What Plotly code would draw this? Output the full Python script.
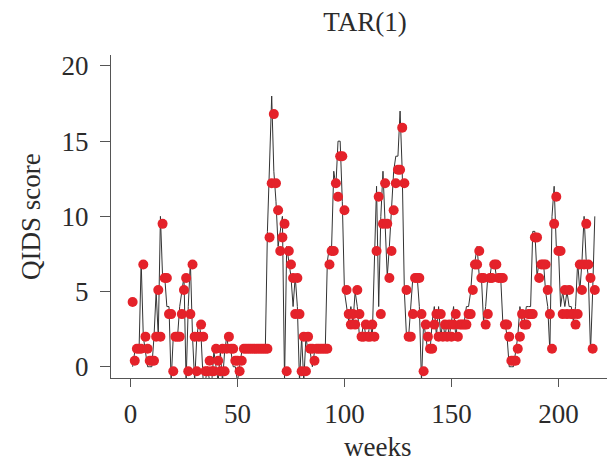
import plotly.graph_objects as go

# weeks 1..217
weeks = list(range(1, 218))

# observed QIDS score (black line); -1 marks dips drawn below the axis floor
qids_observed = [
    0, 1, 1, 1, 7, 2, 1, 0, 0, 0,
    2, 5, 2, 10, 6, 6, 4, 4, -1, 2,
    2, 2, 4, 5, 6, -1, 4, 7, 2, -1,
    2, 3, 2, -1, -1, 0, -1, -1, 1, 0,
    -1, 1, -1, 1, 2, 1, 1, 0, 0, -1,
    0, 1, 1, 1, 1, 1, 1, 1, 1, 1,
    1, 1, 1, 9, 13, 18, 13, 11, 8, 9,
    10, -1, 8, 7, 6, 4, 6, 4, -1, 2,
    -1, 2, 1, 1, 0, 1, 1, 1, 1, 1,
    1, 7, 8, 8, 13, 12, 15, 15, 11, 5,
    4, 3, 4, 3, 5, 4, 2, 2, 3, 2,
    2, 3, 2, 8, 12, 4, 10, 13, 10, 6,
    8, 11, 13, 14, 14, 17, 13, 5, 2, 2,
    4, 6, 6, 6, 4, -1, 3, 2, 1, 1,
    3, 4, 2, 4, 2, 3, 2, 3, 2, 3,
    4, 2, 3, 3, 3, 3, 4, 4, 5, 7,
    7, 8, 6, 6, 3, 4, 6, 6, 7, 7,
    6, 6, 6, 3, 3, 2, 0, 0, 0, 1,
    2, 4, 3, 3, 4, 4, 4, 9, 9, 6,
    7, 7, 7, 5, 4, 1, 10, 12, 8, 8,
    4, 5, 4, 5, 4, 4, 3, 4, 7, 5,
    7, 10, 7, 6, 1, 5, 10,
]

# TAR(1) fitted values (red points)
tar_fitted = [
    4.3, 0.4, 1.2, 1.2, 1.2, 6.8, 2.0, 1.2, 0.4, 0.4,
    0.4, 2.0, 5.1, 2.0, 9.5, 5.9, 5.9, 3.5, 3.5, -0.3,
    2.0, 2.0, 2.0, 3.5, 5.1, 5.9, -0.3, 3.5, 6.8, 2.0,
    -0.3, 2.0, 2.8, 2.0, -0.3, -0.3, 0.4, -0.3, -0.3, 1.2,
    0.4, -0.3, 1.2, -0.3, 1.2, 2.0, 1.2, 1.2, 0.4, 0.4,
    -0.3, 0.4, 1.2, 1.2, 1.2, 1.2, 1.2, 1.2, 1.2, 1.2,
    1.2, 1.2, 1.2, 1.2, 8.6, 12.2, 16.8, 12.2, 10.4, 7.7,
    8.6, 9.5, -0.3, 7.7, 6.8, 5.9, 3.5, 5.9, 3.5, -0.3,
    2.0, -0.3, 2.0, 1.2, 1.2, 0.4, 1.2, 1.2, 1.2, 1.2,
    1.2, 1.2, 6.8, 7.7, 7.7, 12.2, 11.3, 14.0, 14.0, 10.4,
    5.1, 3.5, 2.8, 3.5, 2.8, 5.1, 3.5, 2.0, 2.0, 2.8,
    2.0, 2.0, 2.8, 2.0, 7.7, 11.3, 3.5, 9.5, 12.2, 9.5,
    5.9, 7.7, 10.4, 12.2, 13.1, 13.1, 15.9, 12.2, 5.1, 2.0,
    2.0, 3.5, 5.9, 5.9, 5.9, 3.5, -0.3, 2.8, 2.0, 1.2,
    1.2, 2.8, 3.5, 2.0, 3.5, 2.0, 2.8, 2.0, 2.8, 2.0,
    2.8, 3.5, 2.0, 2.8, 2.8, 2.8, 2.8, 3.5, 3.5, 5.1,
    6.8, 6.8, 7.7, 5.9, 5.9, 2.8, 3.5, 5.9, 5.9, 6.8,
    6.8, 5.9, 5.9, 5.9, 2.8, 2.8, 2.0, 0.4, 0.4, 0.4,
    1.2, 2.0, 3.5, 2.8, 2.8, 3.5, 3.5, 3.5, 8.6, 8.6,
    5.9, 6.8, 6.8, 6.8, 5.1, 3.5, 1.2, 9.5, 11.3, 7.7,
    7.7, 3.5, 5.1, 3.5, 5.1, 3.5, 3.5, 2.8, 3.5, 6.8,
    5.1, 6.8, 9.5, 6.8, 5.9, 1.2, 5.1,
]

x_ticks = [0, 50, 100, 150, 200]
y_ticks = [0, 5, 10, 15, 20]

FONT = "Liberation Serif, Times New Roman, serif"
TXT = "#2b2b2b"
AX = "#555555"
FS = 27

W, H = 607, 464
L, R, T, B = 111, 0, 55, 86
PW, PH = W - L - R, H - T - B

def px_x(p):
    return (p - L) / PW

def px_y(p):
    return (H - B - p) / PH

fig = go.Figure()
fig.add_trace(go.Scatter(
    x=weeks, y=qids_observed, mode="lines",
    line=dict(color="#333333", width=1),
    showlegend=False, hoverinfo="skip",
))
fig.add_trace(go.Scatter(
    x=weeks, y=tar_fitted, mode="markers",
    marker=dict(color="#e4222a", size=10, line=dict(width=0)),
    showlegend=False,
))

fig.update_layout(
    width=W, height=H,
    margin=dict(l=L, r=R, t=T, b=B, pad=0),
    paper_bgcolor="white", plot_bgcolor="white",
    font=dict(family=FONT, color=TXT, size=FS),
    title=dict(text="TAR(1)", x=365 / W, xref="container", xanchor="center",
               y=1 - 22 / H, yref="container", yanchor="middle",
               font=dict(family=FONT, size=FS, color=TXT)),
    xaxis=dict(range=[-9.1, 222.7], tickvals=x_ticks, ticktext=[str(v) for v in x_ticks],
               showgrid=False, zeroline=False, showline=True, linecolor=AX, linewidth=1,
               ticks="outside", ticklen=8, tickcolor=AX, tickwidth=1,
               ticklabelstandoff=4,
               tickfont=dict(family=FONT, size=FS, color=TXT)),
    yaxis=dict(range=[-0.75, 20.73], tickvals=y_ticks, ticktext=[str(v) for v in y_ticks],
               showgrid=False, zeroline=False, showline=True, linecolor=AX, linewidth=1,
               ticks="outside", ticklen=10, tickcolor=AX, tickwidth=1,
               ticklabelstandoff=6,
               tickfont=dict(family=FONT, size=FS, color=TXT)),
    annotations=[
        dict(text="weeks", x=px_x(377), y=px_y(447), xref="paper", yref="paper",
             xanchor="center", yanchor="middle", showarrow=False,
             font=dict(family=FONT, size=FS, color=TXT)),
        dict(text="QIDS score", x=px_x(31), y=px_y(217), xref="paper", yref="paper",
             xanchor="center", yanchor="middle", showarrow=False, textangle=-90,
             font=dict(family=FONT, size=FS, color=TXT)),
    ],
)

fig.write_html("out.html")
